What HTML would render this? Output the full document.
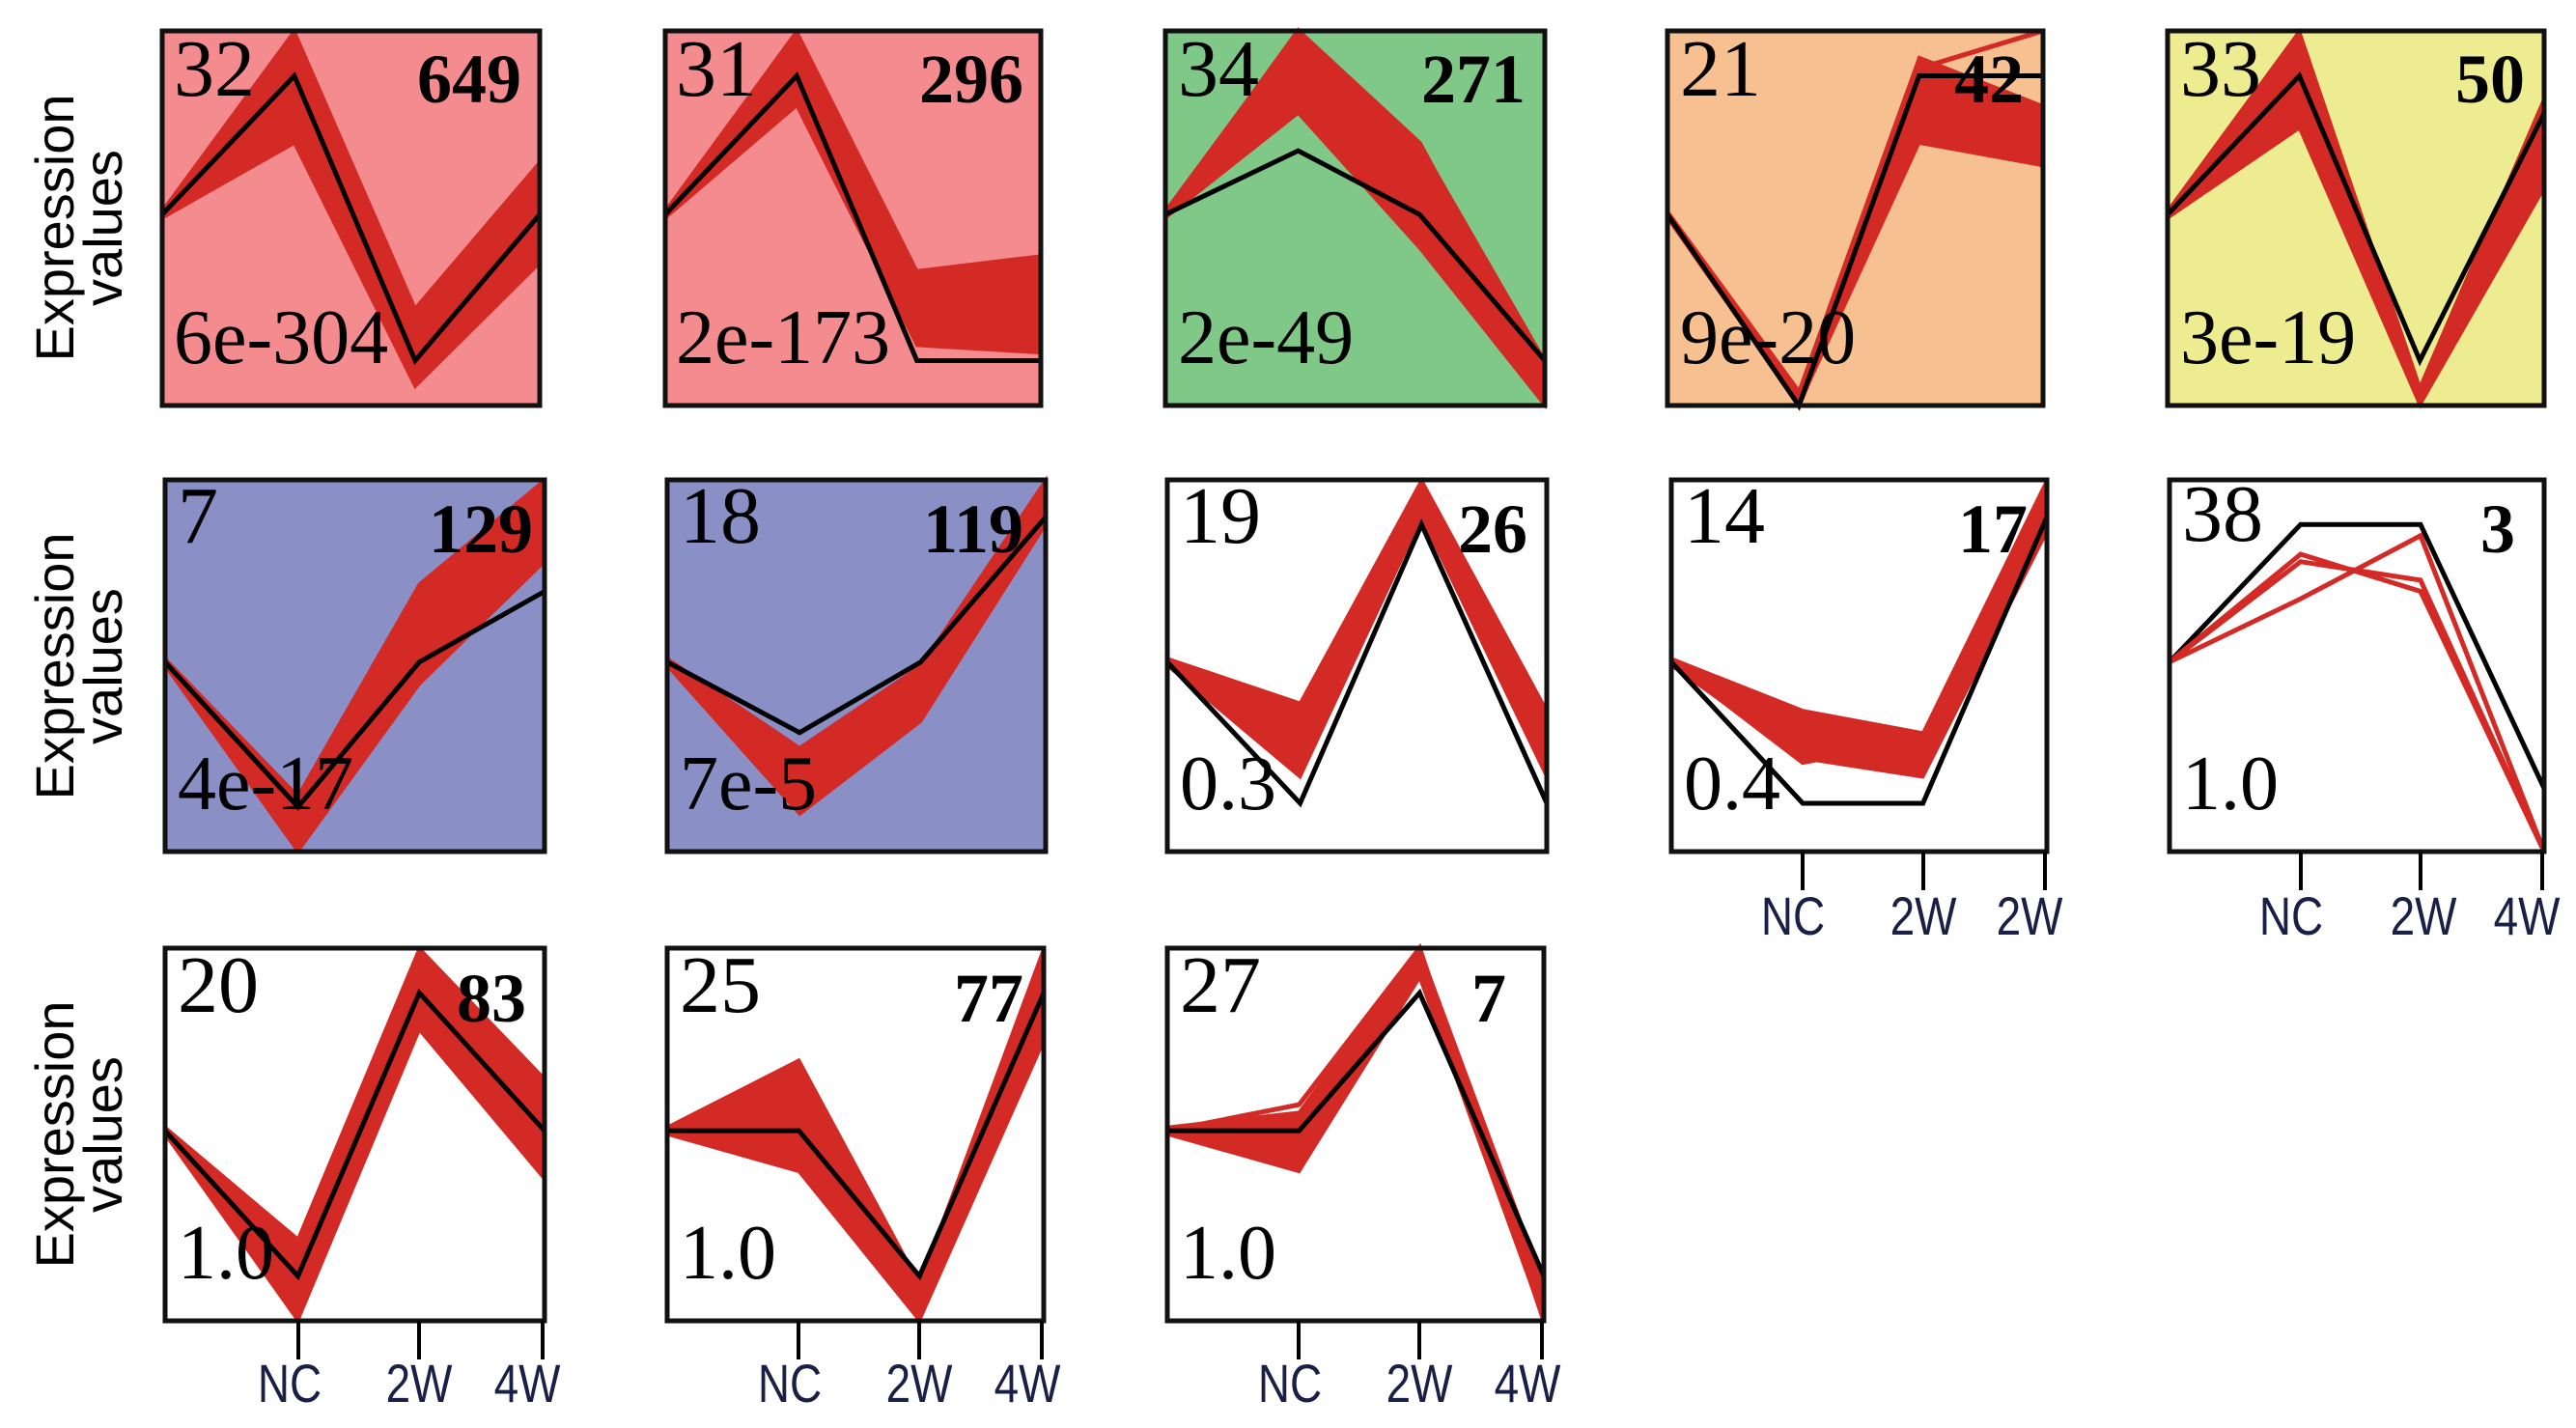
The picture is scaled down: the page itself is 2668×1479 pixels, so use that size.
<!DOCTYPE html>
<html><head><meta charset="utf-8"><style>
html,body{margin:0;padding:0;background:#fff;}
svg text{font-family:"Liberation Serif",serif;}
.n{font-size:84px;}
.b{font-size:72px;font-weight:bold;}
.p{font-size:80px;}
svg .yl text{font-family:"Liberation Sans",sans-serif;font-size:56px;}
svg .tl text{font-family:"Liberation Sans",sans-serif;font-size:56px;fill:#1a1f45;}
.r{fill:#d42a26;stroke:#d42a26;stroke-width:3;vector-effect:non-scaling-stroke;}
.rl{fill:none;stroke:#d42a26;stroke-width:5;vector-effect:non-scaling-stroke;}
.k{fill:none;stroke:#000;stroke-width:5;vector-effect:non-scaling-stroke;}
.box{fill:none;stroke:#111;stroke-width:5;}
</style></head><body>
<svg width="2668" height="1474" xmlns="http://www.w3.org/2000/svg">
<g class="yl" text-anchor="middle">
<text transform="translate(76,236) rotate(-90)">Expression</text>
<text transform="translate(126,236) rotate(-90)">values</text>
<text transform="translate(76,690) rotate(-90)">Expression</text>
<text transform="translate(126,690) rotate(-90)">values</text>
<text transform="translate(76,1175) rotate(-90)">Expression</text>
<text transform="translate(126,1175) rotate(-90)">values</text>
</g>

<!-- P1 -->
<rect x="168" y="32" width="391" height="388" fill="#f38b8f"/>
<svg x="168" y="32" width="391" height="388" viewBox="0 0 100 100" preserveAspectRatio="none" overflow="visible">
<polygon class="r" points="0,48 35,0 67,74 100,35 100,62 67,95 35,30 0,50"/>
<polyline class="k" points="0,49 35,12 67,88 100,49"/></svg>
<rect class="box" x="168" y="32" width="391" height="388"/>
<text class="n" x="180" y="99">32</text><text class="b" x="540" y="106" text-anchor="end">649</text><text class="p" x="180" y="376">6e-304</text>

<!-- P2 -->
<rect x="689" y="32" width="389" height="388" fill="#f38b8f"/>
<svg x="689" y="32" width="389" height="388" viewBox="0 0 100 100" preserveAspectRatio="none" overflow="visible">
<polygon class="r" points="0,48 35,0 67,64 100,60 100,86 67,84 35,20 0,50"/>
<polyline class="k" points="0,49 35,12 67,88 100,88"/></svg>
<rect class="box" x="689" y="32" width="389" height="388"/>
<text class="n" x="700" y="99">31</text><text class="b" x="1060" y="106" text-anchor="end">296</text><text class="p" x="700" y="376">2e-173</text>

<!-- P3 -->
<rect x="1207" y="32" width="393" height="388" fill="#80c888"/>
<svg x="1207" y="32" width="393" height="388" viewBox="0 0 100 100" preserveAspectRatio="none" overflow="visible">
<polygon class="r" points="0,48 35,0 67,30 100,88 100,100 67,58 35,22 0,50"/>
<polyline class="rl" points="0,49 35,0 67,30 100,92"/>
<polyline class="k" points="0,49 35,32 67,49 100,88"/></svg>
<rect class="box" x="1207" y="32" width="393" height="388"/>
<text class="n" x="1220" y="99">34</text><text class="b" x="1580" y="106" text-anchor="end">271</text><text class="p" x="1220" y="376">2e-49</text>

<!-- P4 -->
<rect x="1727" y="32" width="389" height="388" fill="#f7c090"/>
<svg x="1727" y="32" width="389" height="388" viewBox="0 0 100 100" preserveAspectRatio="none" overflow="visible">
<polygon class="r" points="0,48 35,96 67,7 100,20 100,36 67,30 35,100 0,50"/>
<polyline class="rl" points="0,49 35,100 67,10 100,0"/>
<polyline class="rl" points="0,49 35,100 67,22 100,36"/>
<polyline class="k" points="0,49 35,100 67,12 100,12"/></svg>
<rect class="box" x="1727" y="32" width="389" height="388"/>
<text class="n" x="1740" y="99">21</text><text class="b" x="2096" y="106" text-anchor="end">42</text><text class="p" x="1740" y="376">9e-20</text>

<!-- P5 -->
<rect x="2245" y="32" width="390" height="388" fill="#eeec90"/>
<svg x="2245" y="32" width="390" height="388" viewBox="0 0 100 100" preserveAspectRatio="none" overflow="visible">
<polygon class="r" points="0,48 35,0 67,95 100,18 100,42 67,100 35,26 0,50"/>
<polyline class="k" points="0,49 35,12 67,88 100,22"/></svg>
<rect class="box" x="2245" y="32" width="390" height="388"/>
<text class="n" x="2258" y="99">33</text><text class="b" x="2615" y="106" text-anchor="end">50</text><text class="p" x="2258" y="376">3e-19</text>

<!-- P6 -->
<rect x="171" y="497" width="393" height="385" fill="#8a8fc6"/>
<svg x="171" y="497" width="393" height="385" viewBox="0 0 100 100" preserveAspectRatio="none" overflow="visible">
<polygon class="r" points="0,48 35,85 67,28 100,0 100,22 67,55 35,100 0,50"/>
<polyline class="k" points="0,49 35,88 67,49 100,30"/></svg>
<rect class="box" x="171" y="497" width="393" height="385"/>
<text class="n" x="184" y="562">7</text><text class="b" x="552" y="572" text-anchor="end">129</text><text class="p" x="184" y="838">4e-17</text>

<!-- P7 -->
<rect x="691" y="497" width="392" height="385" fill="#8a8fc6"/>
<svg x="691" y="497" width="392" height="385" viewBox="0 0 100 100" preserveAspectRatio="none" overflow="visible">
<polygon class="r" points="0,48 35,72 67,50 100,0 100,12 67,65 35,90 0,50"/>
<polyline class="k" points="0,49 35,68 67,49 100,10"/></svg>
<rect class="box" x="691" y="497" width="392" height="385"/>
<text class="n" x="704" y="562">18</text><text class="b" x="1060" y="572" text-anchor="end">119</text><text class="p" x="704" y="838">7e-5</text>

<!-- P8 -->
<rect x="1209" y="497" width="393" height="385" fill="#fff"/>
<svg x="1209" y="497" width="393" height="385" viewBox="0 0 100 100" preserveAspectRatio="none" overflow="visible">
<polygon class="r" points="0,48 35,60 67,0 100,62 100,80 67,10 35,80 0,50"/>
<polyline class="k" points="0,49 35,87 67,12 100,87"/></svg>
<rect class="box" x="1209" y="497" width="393" height="385"/>
<text class="n" x="1222" y="562">19</text><text class="b" x="1582" y="572" text-anchor="end">26</text><text class="p" x="1222" y="838">0.3</text>

<!-- P9 -->
<rect x="1731" y="497" width="389" height="385" fill="#fff"/>
<svg x="1731" y="497" width="389" height="385" viewBox="0 0 100 100" preserveAspectRatio="none" overflow="visible">
<polygon class="r" points="0,48 35,62 67,68 100,0 100,14 67,80 35,75 0,50"/>
<polyline class="rl" points="0,49 35,76 67,70 100,5"/>
<polyline class="k" points="0,49 35,87 67,87 100,10"/></svg>
<rect class="box" x="1731" y="497" width="389" height="385"/>
<text class="n" x="1744" y="562">14</text><text class="b" x="2100" y="572" text-anchor="end">17</text><text class="p" x="1744" y="838">0.4</text>
<g stroke="#000" stroke-width="4"><line x1="1867" y1="882" x2="1867" y2="922"/><line x1="1992" y1="882" x2="1992" y2="922"/><line x1="2118" y1="882" x2="2118" y2="922"/></g>
<g class="tl" text-anchor="middle"><text transform="translate(1857,968) scale(0.82,1)">NC</text><text transform="translate(1992,968) scale(0.82,1)">2W</text><text transform="translate(2102,968) scale(0.82,1)">2W</text></g>

<!-- P10 -->
<rect x="2247" y="497" width="388" height="385" fill="#fff"/>
<svg x="2247" y="497" width="388" height="385" viewBox="0 0 100 100" preserveAspectRatio="none" overflow="visible">
<polyline class="k" points="0,49 35,12 67,12 100,83"/>
<polyline class="rl" points="0,49 35,20 67,30 100,100"/>
<polyline class="rl" points="0,49 35,22 67,27 100,100"/>
<polyline class="rl" points="0,49 35,32 67,15 100,100"/></svg>
<rect class="box" x="2247" y="497" width="388" height="385"/>
<text class="n" x="2260" y="560">38</text><text class="b" x="2605" y="572" text-anchor="end">3</text><text class="p" x="2260" y="838">1.0</text>
<g stroke="#000" stroke-width="4"><line x1="2383" y1="882" x2="2383" y2="922"/><line x1="2507" y1="882" x2="2507" y2="922"/><line x1="2633" y1="882" x2="2633" y2="922"/></g>
<g class="tl" text-anchor="middle"><text transform="translate(2373,968) scale(0.82,1)">NC</text><text transform="translate(2510,968) scale(0.82,1)">2W</text><text transform="translate(2617,968) scale(0.82,1)">4W</text></g>

<!-- P11 -->
<rect x="171" y="982" width="393" height="386" fill="#fff"/>
<svg x="171" y="982" width="393" height="386" viewBox="0 0 100 100" preserveAspectRatio="none" overflow="visible">
<polygon class="r" points="0,48 35,78 67,0 100,35 100,62 67,22 35,100 0,50"/>
<polyline class="k" points="0,49 35,88 67,12 100,49"/></svg>
<rect class="box" x="171" y="982" width="393" height="386"/>
<text class="n" x="184" y="1048">20</text><text class="b" x="545" y="1058" text-anchor="end">83</text><text class="p" x="184" y="1324">1.0</text>
<g stroke="#000" stroke-width="4"><line x1="309" y1="1368" x2="309" y2="1408"/><line x1="434" y1="1368" x2="434" y2="1408"/><line x1="562" y1="1368" x2="562" y2="1408"/></g>
<g class="tl" text-anchor="middle"><text transform="translate(300,1452) scale(0.82,1)">NC</text><text transform="translate(434,1452) scale(0.82,1)">2W</text><text transform="translate(546,1452) scale(0.82,1)">4W</text></g>

<!-- P12 -->
<rect x="691" y="982" width="390" height="386" fill="#fff"/>
<svg x="691" y="982" width="390" height="386" viewBox="0 0 100 100" preserveAspectRatio="none" overflow="visible">
<polygon class="r" points="0,48 35,30 67,90 100,0 100,25 67,100 35,60 0,50"/>
<polyline class="k" points="0,49 35,49 67,88 100,12"/></svg>
<rect class="box" x="691" y="982" width="390" height="386"/>
<text class="n" x="704" y="1048">25</text><text class="b" x="1060" y="1058" text-anchor="end">77</text><text class="p" x="704" y="1324">1.0</text>
<g stroke="#000" stroke-width="4"><line x1="827" y1="1368" x2="827" y2="1408"/><line x1="952" y1="1368" x2="952" y2="1408"/><line x1="1079" y1="1368" x2="1079" y2="1408"/></g>
<g class="tl" text-anchor="middle"><text transform="translate(818,1452) scale(0.82,1)">NC</text><text transform="translate(952,1452) scale(0.82,1)">2W</text><text transform="translate(1064,1452) scale(0.82,1)">4W</text></g>

<!-- P13 -->
<rect x="1209" y="982" width="390" height="386" fill="#fff"/>
<svg x="1209" y="982" width="390" height="386" viewBox="0 0 100 100" preserveAspectRatio="none" overflow="visible">
<polygon class="r" points="0,48 35,44 67,0 100,90 100,100 67,8 35,60 0,50"/>
<polyline class="rl" points="0,49 35,42 67,0 100,100"/>
<polyline class="k" points="0,49 35,49 67,12 100,88"/></svg>
<rect class="box" x="1209" y="982" width="390" height="386"/>
<text class="n" x="1222" y="1048">27</text><text class="b" x="1560" y="1058" text-anchor="end">7</text><text class="p" x="1222" y="1324">1.0</text>
<g stroke="#000" stroke-width="4"><line x1="1345" y1="1368" x2="1345" y2="1408"/><line x1="1470" y1="1368" x2="1470" y2="1408"/><line x1="1597" y1="1368" x2="1597" y2="1408"/></g>
<g class="tl" text-anchor="middle"><text transform="translate(1336,1452) scale(0.82,1)">NC</text><text transform="translate(1470,1452) scale(0.82,1)">2W</text><text transform="translate(1582,1452) scale(0.82,1)">4W</text></g>
</svg>
</body></html>
